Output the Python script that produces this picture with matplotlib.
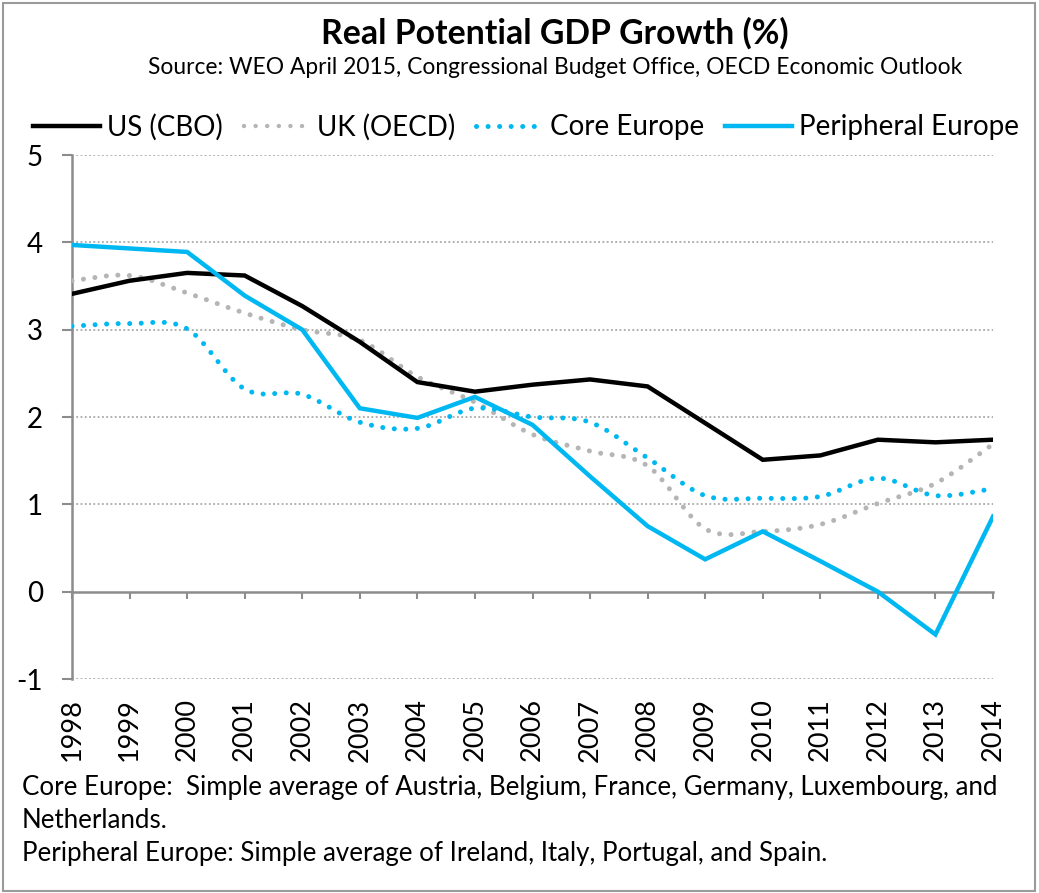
import matplotlib
matplotlib.use("Agg")
import matplotlib.pyplot as plt
from matplotlib.path import Path
from matplotlib.patches import PathPatch, Rectangle
from matplotlib.lines import Line2D
import numpy as np

years = list(range(1998, 2015))
us_cbo = [3.41, 3.56, 3.65, 3.62, 3.27, 2.86, 2.40, 2.29, 2.37, 2.43, 2.35, 1.93, 1.51, 1.56, 1.74, 1.71, 1.74]
uk_oecd = [3.56, 3.62, 3.42, 3.19, 3.00, 2.88, 2.46, 2.17, 1.80, 1.61, 1.44, 0.72, 0.69, 0.77, 1.01, 1.24, 1.69]
core_europe = [3.04, 3.07, 3.01, 2.32, 2.26, 1.94, 1.87, 2.10, 2.00, 1.94, 1.53, 1.10, 1.07, 1.09, 1.30, 1.10, 1.18]
peripheral_europe = [3.97, 3.93, 3.89, 3.39, 3.00, 2.10, 1.99, 2.23, 1.91, 1.32, 0.75, 0.37, 0.69, 0.35, 0.00, -0.49, 0.86]
series_names = ["US (CBO)", "UK (OECD)", "Core Europe", "Peripheral Europe"]
y_ticks = [-1, 0, 1, 2, 3, 4, 5]

title = "Real Potential GDP Growth (%)"
subtitle = "Source: WEO April 2015, Congressional Budget Office, OECD Economic Outlook"
notes = ["Core Europe:  Simple average of Austria, Belgium, France, Germany, Luxembourg, and",
         "Netherlands.",
         "Peripheral Europe: Simple average of Ireland, Italy, Portugal, and Spain."]

FONT = "Lato"
plt.rcParams["font.family"] = [FONT, "DejaVu Sans"]
BLUE = "#00B8F1"
GRAY = "#B5B5B5"
AXC = "#8C8C8C"

fig = plt.figure(figsize=(10.39, 8.93), dpi=100)
W, H = 1039, 893
ax = fig.add_axes([72 / W, 1 - 679 / H, (993 - 72) / W, (679 - 155) / H])

x = np.array(years, dtype=float)


def smooth_path(xs, ys):
    pts = np.column_stack([xs, ys])
    verts = [pts[0]]
    codes = [Path.MOVETO]
    n = len(pts)
    for i in range(n - 1):
        p0 = pts[i - 1] if i > 0 else pts[i]
        p1 = pts[i]
        p2 = pts[i + 1]
        p3 = pts[i + 2] if i + 2 < n else pts[i + 1]
        c1 = p1 + (p2 - p0) / 6.0
        c2 = p2 - (p3 - p1) / 6.0
        verts += [c1, c2, p2]
        codes += [Path.CURVE4] * 3
    return Path(verts, codes)


dot_style = (0, (0.01, 2.3))
for ys, col in [(uk_oecd, GRAY), (core_europe, BLUE)]:
    patch = PathPatch(smooth_path(x, np.array(ys)), fill=False, edgecolor=col,
                      linewidth=3.6, linestyle=dot_style, zorder=3)
    patch.set_capstyle("round")
    ax.add_patch(patch)

ax.plot(x, us_cbo, color="black", linewidth=3.2, zorder=4, solid_joinstyle="miter")
ax.plot(x, peripheral_europe, color=BLUE, linewidth=3.2, zorder=4, solid_joinstyle="miter")

ax.set_xlim(1998, 2014)
ax.set_ylim(-1, 5)
ax.set_yticks(y_ticks)
ax.set_yticklabels([str(v) for v in y_ticks], fontsize=20)
for v in y_ticks:
    if v != 0:
        ax.axhline(v, color="#9A9A9A", linewidth=1.1, linestyle=(0, (1.2, 1.6)), zorder=1)

for s in ["top", "right"]:
    ax.spines[s].set_visible(False)
ax.spines["left"].set_color(AXC)
ax.spines["left"].set_linewidth(1.8)
ax.spines["bottom"].set_position(("data", 0))
ax.spines["bottom"].set_color(AXC)
ax.spines["bottom"].set_linewidth(1.8)
ax.set_xticks(years)
ax.tick_params(axis="x", direction="out", length=5, width=1.5, color=AXC, labelbottom=False)
ax.tick_params(axis="y", direction="out", length=7, width=1.5, color=AXC, pad=14)

sec = ax.secondary_xaxis(0.0)
sec.set_xticks(years)
sec.set_xticklabels([str(y) for y in years], rotation=90, fontsize=19.5)
sec.tick_params(length=0, pad=14)
sec.spines["bottom"].set_visible(False)

fig.text(555 / W, 1 - 33 / H, title, ha="center", va="center", fontsize=24.3, fontweight="bold")
fig.text(555 / W, 1 - 68 / H, subtitle, ha="center", va="center", fontsize=16.4)

handles = [
    Line2D([], [], color="black", linewidth=3.2),
    Line2D([], [], color=GRAY, linewidth=3.2, linestyle=(0, (0.01, 2.6)), dash_capstyle="round"),
    Line2D([], [], color=BLUE, linewidth=3.6, linestyle=dot_style, dash_capstyle="round"),
    Line2D([], [], color=BLUE, linewidth=3.2),
]
fig.legend(handles, series_names, loc="center", bbox_to_anchor=(526 / W, 1 - 127 / H), ncol=4,
           frameon=False, fontsize=20, handlelength=2.4, handletextpad=0.25, columnspacing=0.75,
           borderpad=0, borderaxespad=0)

for i, t in enumerate(notes):
    yy = [787, 820, 853][i]
    fig.text(22 / W, 1 - yy / H, t, ha="left", va="center", fontsize=18.6)

fig.patches.append(Rectangle((3 / W, 2 / H), (W - 7) / W, (H - 5) / H, transform=fig.transFigure,
                             fill=False, edgecolor="#9A9A9A", linewidth=1.5))

fig.savefig("out.png", dpi=100)
